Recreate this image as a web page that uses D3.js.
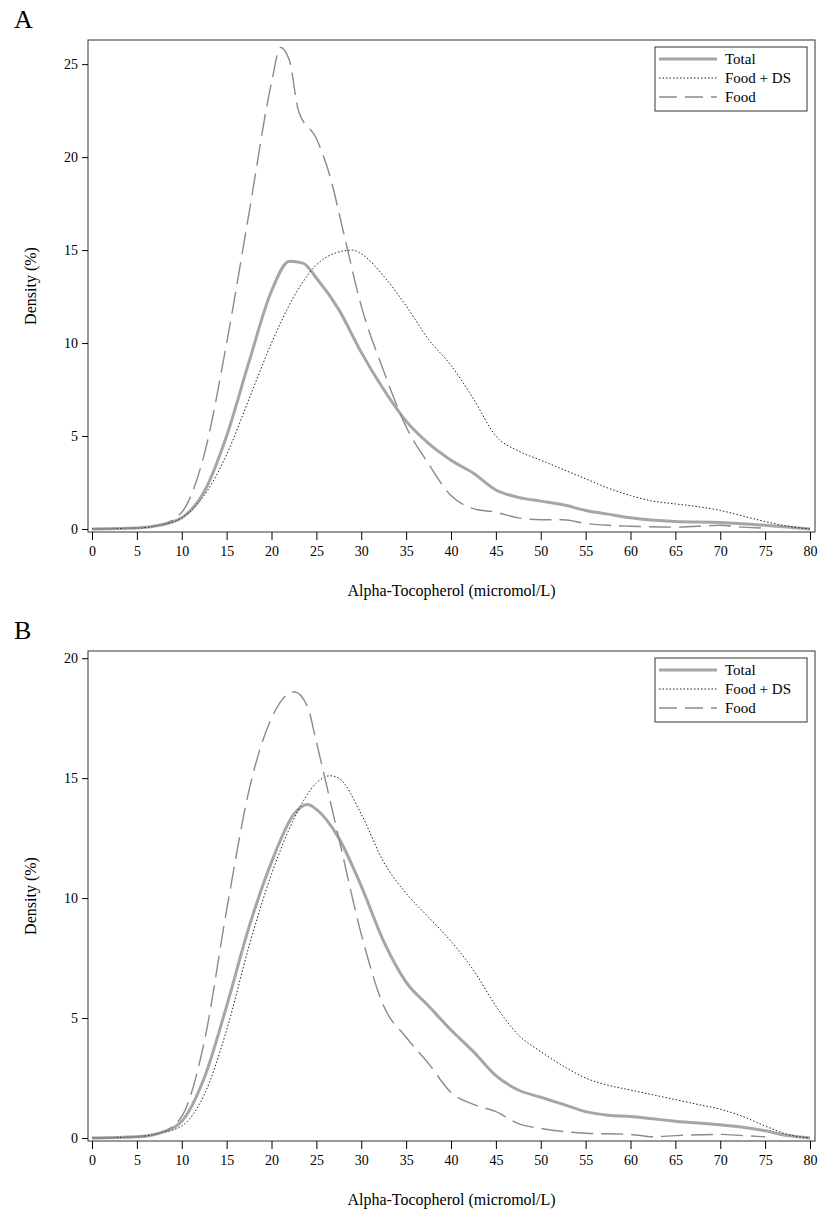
<!DOCTYPE html>
<html><head><meta charset="utf-8">
<script src="https://cdn.jsdelivr.net/npm/d3@7"></script>
<style>body{margin:0;background:#fff;font-family:"Liberation Serif","DejaVu Serif",serif;}</style>
</head><body><div id="chart"></div>
<script>
// ---- data ----
const xTicks = d3.range(0, 81, 5);
const seriesNames = ["Total", "Food + DS", "Food"];

const aTotal = [[0,0],[5,0.05],[7.5,0.2],[10,0.6],[12.5,2],[15,5],[17.5,9],[20,12.8],[22,14.4],[23.5,14.3],[25,13.5],[27.5,11.8],[30,9.5],[32.5,7.5],[35,5.8],[37.5,4.6],[40,3.7],[42.5,3.0],[45,2.1],[47.5,1.7],[50,1.5],[52.5,1.3],[55,1.0],[57.5,0.8],[60,0.6],[65,0.4],[70,0.35],[75,0.2],[80,0]];
const aFoodDS = [[0,0],[5,0.05],[7.5,0.2],[10,0.6],[12.5,1.8],[15,4],[17.5,7],[20,10],[22.5,12.5],[25,14.2],[27.5,14.9],[29,15],[30,14.8],[32.5,13.6],[35,12],[37.5,10.2],[40,8.8],[42.5,7],[45,5],[47.5,4.2],[50,3.7],[52.5,3.2],[55,2.7],[57.5,2.2],[60,1.8],[62.5,1.5],[65,1.35],[67.5,1.2],[70,1.0],[72.5,0.7],[75,0.4],[77.5,0.15],[80,0]];
const aFood = [[0,0],[5,0.05],[7.5,0.2],[10,0.9],[12.5,4],[15,10],[17.5,17],[20,24],[21,25.9],[22,25.2],[23,22.5],[25,21],[26.5,19],[28,16],[30,12],[32.5,8.5],[35,5.5],[37.5,3.5],[40,1.8],[42.5,1.1],[45,0.9],[47.5,0.6],[50,0.5],[52.5,0.5],[55,0.3],[57.5,0.2],[60,0.15],[65,0.1],[70,0.2],[72.5,0.1],[75,0.05]];

const bTotal = [[0,0],[5,0.05],[7.5,0.2],[10,0.7],[12.5,2.5],[15,5.5],[17.5,8.8],[20,11.5],[22.5,13.5],[24,13.9],[25,13.7],[27.5,12.5],[30,10.5],[32.5,8.2],[35,6.5],[37.5,5.5],[40,4.5],[42.5,3.6],[45,2.6],[47.5,2.0],[50,1.7],[52.5,1.4],[55,1.1],[57.5,0.95],[60,0.9],[62.5,0.8],[65,0.7],[70,0.55],[72.5,0.45],[75,0.3],[77.5,0.1],[80,0]];
const bFoodDS = [[0,0],[5,0.05],[7.5,0.2],[10,0.5],[12.5,1.8],[15,4.5],[17.5,8],[20,11],[22.5,13.3],[25,14.8],[26.5,15.1],[27.5,15],[30,13.5],[32.5,11.5],[35,10.2],[37.5,9.2],[40,8.2],[42.5,7],[45,5.5],[47.5,4.3],[50,3.6],[52.5,3.0],[55,2.5],[57.5,2.2],[60,2.0],[62.5,1.8],[65,1.6],[67.5,1.4],[70,1.2],[72.5,0.9],[75,0.5],[77.5,0.15],[80,0]];
const bFood = [[0,0],[5,0.05],[7.5,0.2],[10,0.9],[12.5,4],[15,9.5],[17.5,14.5],[20,17.5],[22.5,18.6],[24,18],[25,16.5],[27.5,12.5],[30,8.5],[32.5,5.5],[35,4.2],[37.5,3.1],[40,1.9],[42.5,1.4],[45,1.1],[47.5,0.6],[50,0.4],[55,0.2],[60,0.15],[62.5,0.05],[65,0.1],[70,0.15],[72.5,0.1],[75,0.05]];

const panels = [
  {label: "A", series: [aTotal, aFoodDS, aFood], yTicks: [0,5,10,15,20,25], yMax: 26.3, top: 40, zeroY: 529, bottom: 532},
  {label: "B", series: [bTotal, bFoodDS, bFood], yTicks: [0,5,10,15,20], yMax: 20.3, top: 651, zeroY: 1138, bottom: 1141}
];

const styles = [
  {stroke: "#a6a6a6", width: 3, dash: null},
  {stroke: "#222", width: 1, dash: "1.5,2"},
  {stroke: "#8a8a8a", width: 1.4, dash: "22,8"}
];

const svg = d3.select("#chart").append("svg").attr("width", 823).attr("height", 1214);
const left = 88, right = 815;
const x = d3.scaleLinear().domain([0, 80]).range([92, 810]);

panels.forEach(p => {
  const y = d3.scaleLinear().domain([0, p.yMax]).range([p.zeroY, p.top]);
  const g = svg.append("g");

  g.append("text").attr("x", 14).attr("y", p.top - 12).style("font-size", "26px").text(p.label);

  g.append("rect").attr("x", left).attr("y", p.top).attr("width", right - left)
    .attr("height", p.bottom - p.top).attr("fill", "none").attr("stroke", "#333").attr("stroke-width", 1);

  const xa = g.append("g").attr("transform", `translate(0,${p.bottom})`)
    .call(d3.axisBottom(x).tickValues(xTicks).tickSize(8).tickPadding(6));
  xa.select(".domain").remove();
  xa.selectAll("text").style("font-family", "Liberation Serif").style("font-size", "14px").attr("fill", "#000");

  const ya = g.append("g").attr("transform", `translate(${left},0)`)
    .call(d3.axisLeft(y).tickValues(p.yTicks).tickSize(6).tickPadding(4));
  ya.select(".domain").remove();
  ya.selectAll("text").style("font-family", "Liberation Serif").style("font-size", "14px").attr("fill", "#000");

  g.append("text").attr("x", (left + right) / 2).attr("y", p.bottom + 64).attr("text-anchor", "middle")
    .style("font-size", "16px").text("Alpha-Tocopherol (micromol/L)");
  g.append("text").attr("transform", `translate(36,${(p.top + p.bottom) / 2}) rotate(-90)`)
    .attr("text-anchor", "middle").style("font-size", "16px").text("Density (%)");

  const line = d3.line().x(d => x(d[0])).y(d => y(d[1])).curve(d3.curveMonotoneX);
  p.series.forEach((s, i) => {
    g.append("path").datum(s).attr("d", line).attr("fill", "none")
      .attr("stroke", styles[i].stroke).attr("stroke-width", styles[i].width)
      .attr("stroke-dasharray", styles[i].dash);
  });

  const lg = g.append("g").attr("transform", `translate(655,${p.top + 7})`);
  lg.append("rect").attr("width", 152).attr("height", 64).attr("fill", "#fff").attr("stroke", "#333");
  seriesNames.forEach((n, i) => {
    const yy = 12 + i * 19;
    lg.append("line").attr("x1", 4).attr("x2", 62).attr("y1", yy).attr("y2", yy)
      .attr("stroke", styles[i].stroke).attr("stroke-width", styles[i].width)
      .attr("stroke-dasharray", i === 2 ? "18,8" : styles[i].dash);
    lg.append("text").attr("x", 70).attr("y", yy + 5).style("font-size", "15px").text(n);
  });
});
</script></body></html>
